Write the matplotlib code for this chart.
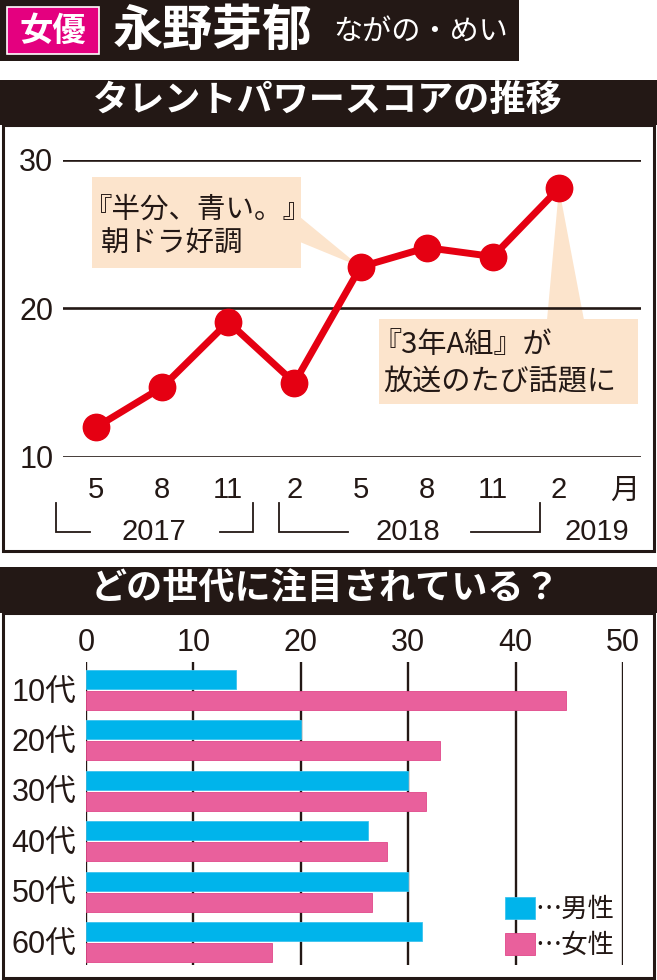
import matplotlib
matplotlib.use('Agg')
import matplotlib.pyplot as plt
from matplotlib.patches import Rectangle, Polygon

# データ
months = ['5', '8', '11', '2', '5', '8', '11', '2']
scores = [12.0, 14.7, 19.1, 15.0, 22.8, 24.1, 23.5, 28.1]
years = ['2017', '2018', '2019']
ages = ['10代', '20代', '30代', '40代', '50代', '60代']
male = [14.0, 20.0, 30.0, 26.3, 30.0, 31.3]
female = [44.7, 33.0, 31.7, 28.0, 26.6, 17.3]
score_ticks = [10, 20, 30]
pct_ticks = [0, 10, 20, 30, 40, 50]

W, H = 657, 980
JP = ['Noto Sans CJK JP', 'DejaVu Sans']
NUM = ['Liberation Sans', 'Noto Sans CJK JP']
plt.rcParams['font.family'] = NUM

BLACK = '#231815'
RED = '#E50012'
PEACH = '#FCE4CC'
BLUE = '#00B4EB'
PINK = '#E9609C'

fig = plt.figure(figsize=(W / 100, H / 100), dpi=100)

# 背景（ピクセル座標）
bg = fig.add_axes([0, 0, 1, 1])
bg.set_xlim(0, W)
bg.set_ylim(H, 0)
bg.axis('off')


def box(x0, y0, x1, y1, **kw):
    bg.add_patch(Rectangle((x0, y0), x1 - x0, y1 - y0, **kw))


def px_rect(x0, y0, x1, y1):
    return [x0 / W, 1 - y1 / H, (x1 - x0) / W, (y1 - y0) / H]


box(0, 0, 519, 61, fc=BLACK, ec='none')
box(7, 7, 99, 54, fc='#E4007F', ec='white', lw=1.2)
bg.text(53, 31, '女優', color='white', fontsize=24, fontweight='bold',
        family=JP, ha='center', va='center')
bg.text(113, 31, '永野芽郁', color='white', fontsize=36, fontweight='bold',
        family=JP, ha='left', va='center')
bg.text(333, 32, 'ながの・めい', color='white', fontsize=21,
        family=JP, ha='left', va='center')

box(0, 80, W, 125, fc=BLACK, ec='none')
box(3, 125, 654, 551, fc='white', ec=BLACK, lw=2.2)
bg.text(328, 101, 'タレントパワースコアの推移', color='white', fontsize=26,
        fontweight='bold', family=JP, ha='center', va='center')

box(0, 567, W, 613, fc=BLACK, ec='none')
box(3, 613, 654, 978, fc='white', ec=BLACK, lw=2.2)
bg.text(325, 589, 'どの世代に注目されている？', color='white', fontsize=26,
        fontweight='bold', family=JP, ha='center', va='center')

# 折れ線グラフ
ax1 = fig.add_axes(px_rect(63, 160, 641, 457))
ax1.patch.set_visible(False)
idx = list(range(len(scores)))
step = (559 - 96) / 7
ax1.set_xlim(-(96 - 63) / step, 7 + (641 - 559) / step)
ax1.set_ylim(10, 30)
for s in ax1.spines.values():
    s.set_visible(False)

for t in score_ticks:
    ax1.axhline(t, color=BLACK, lw=1.9, zorder=2)

ax1.plot(idx, scores, color=RED, lw=5, marker='o', ms=19,
         zorder=5, clip_on=False)

ax1.set_yticks(score_ticks)
ax1.set_yticklabels([str(t) for t in score_ticks], fontsize=22, color=BLACK)
ax1.set_xticks(idx + [8.0])
ax1.set_xticklabels(months + ['月'], fontsize=21, color=BLACK)
ax1.tick_params(length=0)
ax1.tick_params(axis='y', pad=7)
ax1.tick_params(axis='x', pad=14)


def d1(px, py):
    return ax1.transData.inverted().transform((px, H - py))


# 年の括弧
brackets = [[(56, 503), (56, 532), (90, 532)],
            [(220, 532), (253, 532), (253, 503)],
            [(279, 503), (279, 532), (348, 532)],
            [(471, 532), (540, 532), (540, 503)]]
for b in brackets:
    pts = [d1(*p) for p in b]
    ax1.plot([p[0] for p in pts], [p[1] for p in pts], color=BLACK,
             lw=1.3, clip_on=False, solid_joinstyle='miter')
for lab, px in zip(years, [154, 408, 597]):
    x, y = d1(px, 532)
    ax1.text(x, y, lab, fontsize=21, color=BLACK, ha='center', va='center',
             clip_on=False)

# 吹き出し
x0, y0 = d1(92, 268)
x1, y1 = d1(301, 177)
ax1.add_patch(Rectangle((x0, y0), x1 - x0, y1 - y0, fc=PEACH, ec='none',
                        zorder=1, clip_on=False))
ax1.add_patch(Polygon([d1(300, 217), d1(300, 242), (4, scores[4])],
                      fc=PEACH, ec='none', zorder=1, clip_on=False))
x, y = d1(84, 210)
ax1.text(x, y, '『半分、青い。』', fontsize=20.5, family=JP, color=BLACK,
         ha='left', va='center', zorder=3)
x, y = d1(101, 244)
ax1.text(x, y, '朝ドラ好調', fontsize=20.5, family=JP, color=BLACK,
         ha='left', va='center', zorder=3)

x0, y0 = d1(379, 404)
x1, y1 = d1(638, 319)
ax1.add_patch(Rectangle((x0, y0), x1 - x0, y1 - y0, fc=PEACH, ec='none',
                        zorder=1, clip_on=False))
ax1.add_patch(Polygon([d1(547, 320), d1(584, 320), (7, scores[7])],
                      fc=PEACH, ec='none', zorder=1, clip_on=False))
x, y = d1(372, 345)
ax1.text(x, y, '『3年A組』が', fontsize=21, family=JP, color=BLACK,
         ha='left', va='center', zorder=3)
x, y = d1(383, 382)
ax1.text(x, y, '放送のたび話題に', fontsize=21, family=JP, color=BLACK,
         ha='left', va='center', zorder=3)

# 棒グラフ
ax2 = fig.add_axes(px_rect(86, 662, 623, 965))
ax2.patch.set_visible(False)
gidx = list(range(len(ages)))
gap = 50.4
ax2.set_xlim(0, 50)
ax2.set_ylim((965 - 690) / gap, (662 - 690) / gap)
for s in ax2.spines.values():
    s.set_visible(False)
for t in pct_ticks:
    ax2.axvline(t, color=BLACK, lw=1.7, zorder=1)

bh = 19 / gap
b1 = ax2.barh([i - 10.5 / gap for i in gidx], male, height=bh, color=BLUE,
              edgecolor='#3CC3EF', lw=0.6, zorder=3, label='…男性')
b2 = ax2.barh([i + 10.5 / gap for i in gidx], female, height=bh, color=PINK,
              edgecolor='#E0478A', lw=0.6, zorder=3, label='…女性')

ax2.xaxis.tick_top()
ax2.set_xticks(pct_ticks)
ax2.set_xticklabels([str(t) for t in pct_ticks], fontsize=22, color=BLACK)
ax2.set_yticks(gidx)
ax2.set_yticklabels(ages, fontsize=22, color=BLACK)
ax2.tick_params(length=0)
ax2.tick_params(axis='x', pad=3)
ax2.tick_params(axis='y', pad=7)

leg = ax2.legend(handles=[b1, b2], loc='upper left',
                 bbox_to_anchor=(505 / W, 1 - 896 / H),
                 bbox_transform=fig.transFigure, frameon=False,
                 prop={'family': JP, 'size': 19}, handlelength=1.15,
                 handleheight=0.9, handletextpad=0.0, borderpad=0,
                 borderaxespad=0, labelspacing=0.35)
for txt in leg.get_texts():
    txt.set_color(BLACK)

fig.savefig('out.png', dpi=100)
